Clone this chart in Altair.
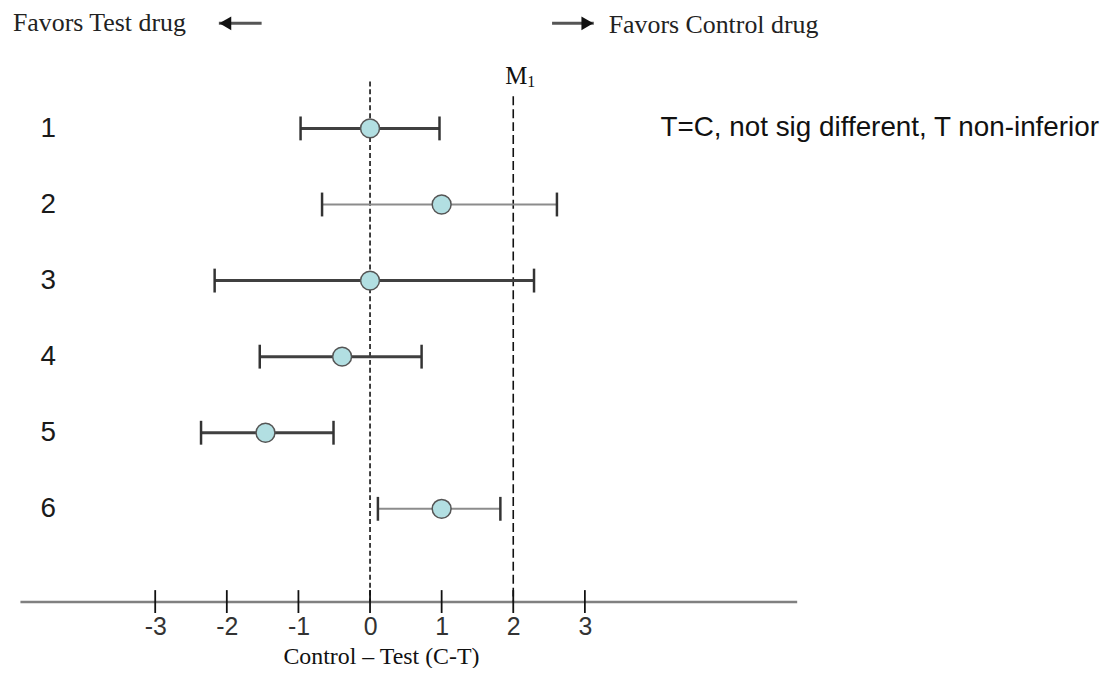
import altair as alt
import pandas as pd

# ---- data ----
rows = [1, 2, 3, 4, 5, 6]
est = [0.0, 1.0, 0.0, -0.39, -1.46, 1.0]
lo = [-0.97, -0.67, -2.17, -1.54, -2.36, 0.11]
hi = [0.97, 2.61, 2.29, 0.72, -0.51, 1.82]

tick_values = [-3, -2, -1, 0, 1, 2, 3]
ref_x = [0, 2]            # zero line and margin M1
ref_top = [0.382, 0.578]  # where each dashed line starts (row units)
axis_row = 7.219          # row position of the x axis line

hdr_text = ["Favors Test drug", "Favors Control drug"]
hdr_x = [-4.986, 3.333]
hdr_row = [-0.284, -0.258]

arrow_tail = [-1.514, 2.542]
arrow_tip = [-2.111, 3.125]
arrow_row = [-0.382, -0.382]

note_text = ["T=C, not sig different, T non-inferior"]
note_x = [4.056]
note_row = [1]

m_label_x = [2]
m_label_row = [0.422]

# ---- tables ----
ci = pd.DataFrame({"row": rows, "est": est, "lo": lo, "hi": hi})
ref = pd.DataFrame({"x": ref_x, "top": ref_top, "bottom": [axis_row] * len(ref_x)})
ticks = pd.DataFrame({"t": tick_values, "r": [axis_row] * len(tick_values)})
hdr = pd.DataFrame({"text": hdr_text, "x": hdr_x, "row": hdr_row})
arr = pd.DataFrame({"tail": arrow_tail, "tip": arrow_tip, "row": arrow_row})
arr["shape"] = ["triangle-left" if t < s else "triangle-right" for t, s in zip(arr["tip"], arr["tail"])]
arr["head"] = [t + (0.09 if t < s else -0.09) for t, s in zip(arr["tip"], arr["tail"])]
note = pd.DataFrame({"text": note_text, "x": note_x, "row": note_row})
mlab = pd.DataFrame({"x": m_label_x, "row": m_label_row})

xscale = alt.Scale(domain=[-4.889, 5.958], nice=False, zero=False)
yscale = alt.Scale(domain=[0.382, axis_row], nice=False, zero=False, reverse=True)

xaxis = alt.Axis(
    values=tick_values, ticks=False, grid=False,
    domainColor="#808080", domainWidth=2.5,
    labelFont="Liberation Sans", labelFontSize=25, labelColor="#333333",
    labelPadding=13, labelExpr="'' + datum.value",
    title="Control – Test (C-T)", titleFont="Liberation Serif", titleFontSize=24,
    titleFontWeight="normal", titleColor="#111111",
    titleX=363, titleY=62, titleBaseline="alphabetic", titleAlign="center",
)
yaxis = alt.Axis(
    values=rows, ticks=False, domain=False, grid=False, offset=-28,
    labelAlign="center", labelPadding=0, labelFont="Liberation Sans",
    labelFontSize=28, labelColor="#1a1a1a", format="d", title="",
)


def X(f):
    return alt.X(f, type="quantitative", scale=xscale, axis=xaxis)


def Y(f):
    return alt.Y(f, type="quantitative", scale=yscale, axis=yaxis)


refs = alt.Chart(ref).mark_rule(color="#111111", strokeWidth=1.6).encode(
    x=X("x"), y=Y("top"), y2="bottom",
    strokeDash=alt.condition("datum.x == 0", alt.value([5, 3]), alt.value([9, 4])),
)

light = "datum.row == 2 || datum.row == 6"
ci_line = alt.Chart(ci).mark_rule().encode(
    x=X("lo"), x2="hi", y=Y("row"),
    color=alt.condition(light, alt.value("#8c8c8c"), alt.value("#404040")),
    strokeWidth=alt.condition(light, alt.value(2), alt.value(3)),
)

caps = alt.Chart(ci).transform_fold(["lo", "hi"], as_=["end", "xv"]).mark_tick(
    orient="vertical", size=24, thickness=2.5, color="#333333", opacity=1
).encode(x=X("xv"), y=Y("row"))

dots = alt.Chart(ci).mark_circle(
    size=360, fill="#b2dfe2", stroke="#555555", strokeWidth=1.5, opacity=1
).encode(x=X("est"), y=Y("row"))

axticks = alt.Chart(ticks).mark_tick(
    orient="vertical", size=23, thickness=1.8, color="#111111", opacity=1
).encode(x=X("t"), y=Y("r"))

headers = alt.Chart(hdr).mark_text(
    align="left", baseline="alphabetic", font="Liberation Serif", fontSize=26, color="#222222"
).encode(x=X("x"), y=Y("row"), text="text:N")

shafts = alt.Chart(arr).mark_rule(color="#555555", strokeWidth=3).encode(
    x=X("tail"), x2="tip", y=Y("row")
)
heads = alt.Chart(arr).mark_point(filled=True, size=190, color="#111111", opacity=1).encode(
    x=X("head"), y=Y("row"), shape=alt.Shape("shape:N", scale=None)
)

notes = alt.Chart(note).mark_text(
    align="left", baseline="middle", font="Liberation Sans", fontSize=28, color="#111111"
).encode(x=X("x"), y=Y("row"), text="text:N")

m_main = alt.Chart(mlab).mark_text(
    align="center", baseline="alphabetic", font="Liberation Serif", fontSize=25, color="#111111", dx=3
).encode(x=X("x"), y=Y("row"), text=alt.value("M"))
m_sub = alt.Chart(mlab).mark_text(
    align="left", baseline="alphabetic", font="Liberation Serif", fontSize=16, color="#111111", dx=14, dy=3
).encode(x=X("x"), y=Y("row"), text=alt.value("1"))

chart = alt.layer(
    refs, ci_line, caps, dots, axticks, headers, shafts, heads, notes, m_main, m_sub
).properties(
    width=781, height=523,
    autosize=alt.AutoSizeParams(type="none"),
    padding={"left": 12, "top": 72, "right": 310, "bottom": 65},
    background="white",
).configure_view(strokeWidth=0)

chart.save("out.html", embed_options={"renderer": "svg", "actions": False})
